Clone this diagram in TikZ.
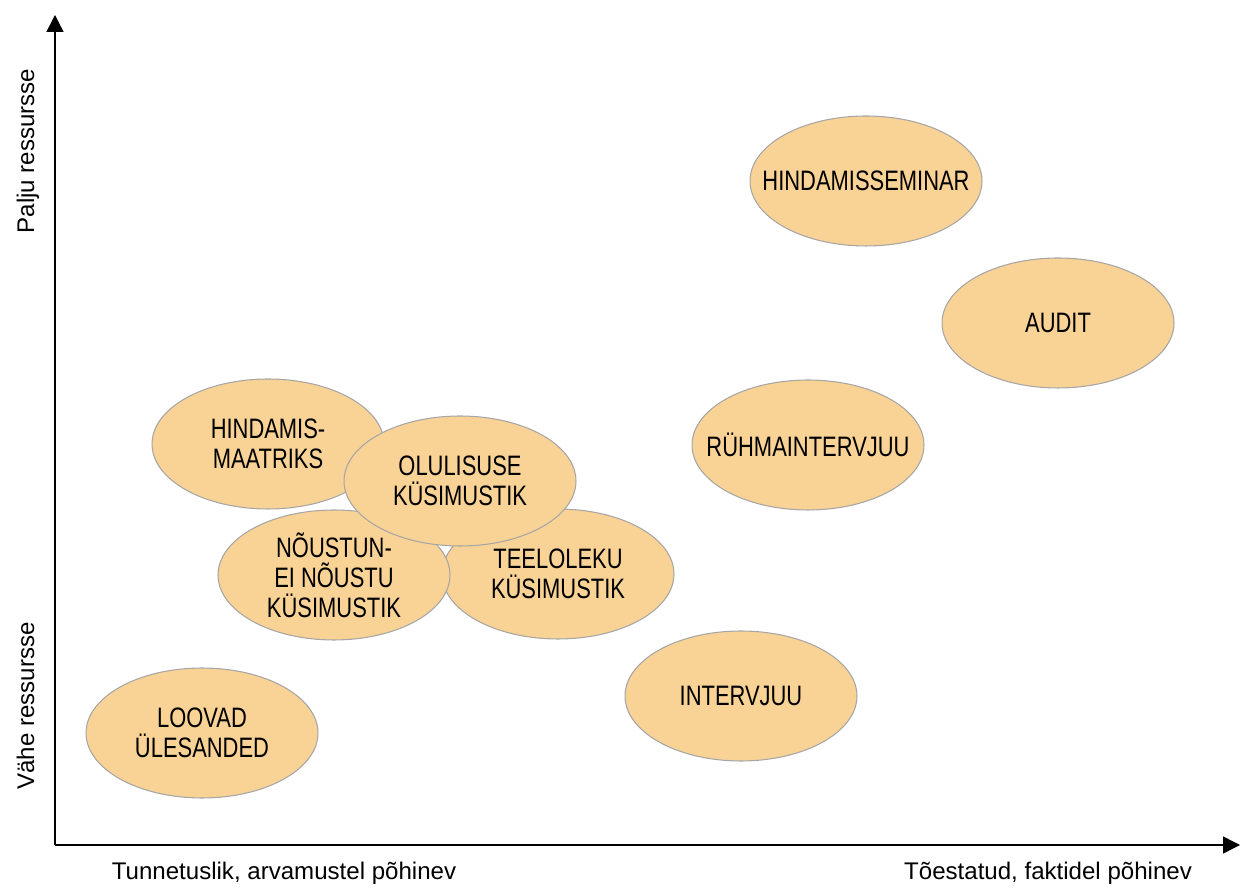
\documentclass[tikz,border=0pt]{standalone}
\usepackage{fontspec}
\setmainfont{Liberation Sans}
\newfontfamily\narrowfont[FakeStretch=0.78]{Liberation Sans}
\usetikzlibrary{arrows.meta,shapes.geometric}
\definecolor{bubblefill}{HTML}{F9D295}
\definecolor{bubbleline}{HTML}{A6A6A6}
\tikzstyle{bubble} = [ellipse,draw=bubbleline,line width=0.6pt,fill=bubblefill,inner sep=0pt,minimum width=4.64cm,minimum height=2.6cm]
\tikzstyle{data} = [align=center,text centered,font=\narrowfont\fontsize{16}{17}\selectfont]
\tikzstyle{axislabel} = [font=\fontsize{13.7}{16}\selectfont,inner sep=0pt]
\tikzstyle{axis} = [line width=0.8pt,-{Triangle[length=0.34cm,width=0.34cm]}]

\begin{document}
\begin{tikzpicture}[x=0.02cm,y=0.02cm]
				\useasboundingbox (0,0) rectangle (1240,889);
				% axes
				\coordinate (origin) at (55,44);
				\coordinate (ytop) at (55,874);
				\coordinate (xend) at (1240,44);
				\draw [axis] (origin) -- (ytop);
				\draw [axis] (origin) -- (xend);
				\node (many) [axislabel,rotate=90,anchor=base] at (34,738) {Palju ressursse};
				\node (few) [axislabel,rotate=90,anchor=base] at (34,183) {Vähe ressursse};
				\node (opinion) [axislabel,anchor=base] at (284,10) {Tunnetuslik, arvamustel põhinev};
				\node (fact) [axislabel,anchor=base] at (1048,10) {Tõestatud, faktidel põhinev};
				% methods
				\node (sem) [bubble] at (866,708) {};
				\node (sem-t) [data] at (sem) {HINDAMISSEMINAR};
				\node (audit) [bubble] at (1058,566) {};
				\node (audit-t) [data] at (audit) {AUDIT};
				\node (ryhm) [bubble] at (808,444) {};
				\node (ryhm-t) [data] at (ryhm) {RÜHMAINTERVJUU};
				\node (maatriks) [bubble] at (268,445) {};
				\node (maatriks-t) [data] at (maatriks) {HINDAMIS-\\MAATRIKS};
				\node (teel) [bubble] at (558,315) {};
				\node (teel-t) [data] at (teel) {TEELOLEKU\\KÜSIMUSTIK};
				\node (noustun) [bubble] at (334,314) {};
				\node (noustun-t) [data] at (noustun) {NÕUSTUN-\\EI NÕUSTU\\KÜSIMUSTIK};
				\node (olul) [bubble] at (460,408) {};
				\node (olul-t) [data] at (olul) {OLULISUSE\\KÜSIMUSTIK};
				\node (intervjuu) [bubble] at (741,193) {};
				\node (intervjuu-t) [data] at (intervjuu) {INTERVJUU};
				\node (loovad) [bubble] at (202,156) {};
				\node (loovad-t) [data] at (loovad) {LOOVAD\\ÜLESANDED};
			\end{tikzpicture}
\end{document}
